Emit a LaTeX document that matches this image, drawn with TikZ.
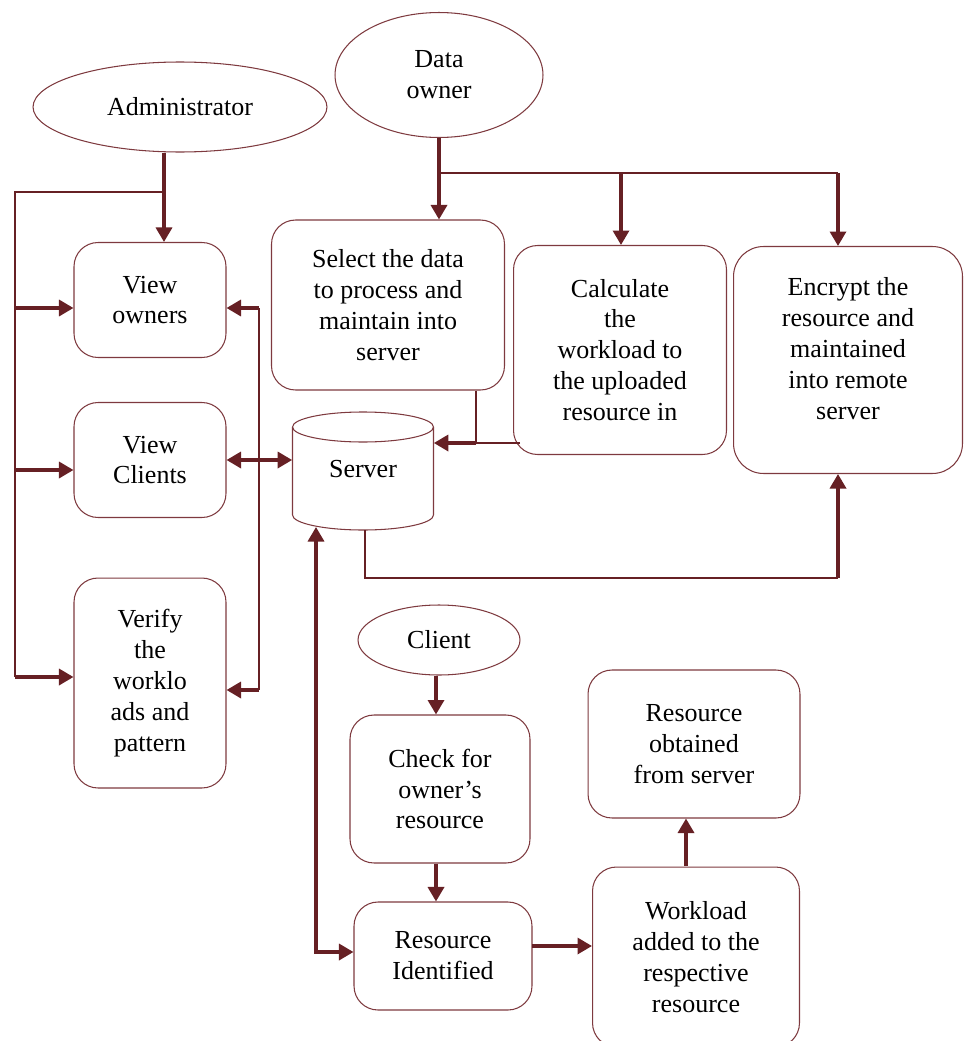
\documentclass[tikz,border=0pt]{standalone}
\usepackage{fontspec}
\setmainfont{Liberation Serif}
\usetikzlibrary{arrows.meta, shapes.geometric}
\definecolor{custom_maroon}{HTML}{662024}
\definecolor{custom_border}{HTML}{7E3A3F}

\tikzset{
  box/.style={draw=custom_border, line width=0.6pt, rounded corners=0.48cm, align=center, inner sep=0pt},
  oval/.style={draw=custom_border, line width=0.6pt, ellipse, align=center, inner sep=0pt},
  link/.style={draw=custom_maroon, line width=0.75pt},
  arr/.style={draw=custom_maroon, line width=1.9pt, -{Triangle[length=0.29cm, width=0.32cm]}},
  darr/.style={draw=custom_maroon, line width=1.9pt, {Triangle[length=0.29cm, width=0.32cm]}-{Triangle[length=0.29cm, width=0.32cm]}},
}

\begin{document}
\begin{tikzpicture}[x=0.02cm, y=-0.02cm, font=\fontsize{14.8}{17.6}\selectfont]
\useasboundingbox (0,0) rectangle (964,1041);

% actors
\node[oval, minimum width=5.88cm, minimum height=1.8cm] (admin) at (180,107) {Administrator};
\node[oval, minimum width=4.16cm, minimum height=2.5cm] (owner) at (439,75) {Data\\owner};
\node[oval, minimum width=3.24cm, minimum height=1.4cm] (client) at (439,640) {Client};

% administrator side
\node[box, minimum width=3.04cm, minimum height=2.3cm] (vo) at (150,300) {View\\owners};
\node[box, minimum width=3.04cm, minimum height=2.3cm] (vc) at (150,460) {View\\Clients};
\node[box, minimum width=3.04cm, minimum height=4.2cm] (vw) at (150,683) {Verify\\the\\worklo\\ads and\\pattern};

% data owner side
\node[box, minimum width=4.66cm, minimum height=3.4cm] (sel) at (388,305) {Select the data\\to process and\\maintain into\\server};
\node[box, minimum width=4.26cm, minimum height=4.18cm] (calc) at (620,350) {Calculate\\the\\workload to\\the uploaded\\resource in};
\node[box, rounded corners=0.6cm, text depth=13pt, minimum width=4.58cm, minimum height=4.54cm] (enc) at (848,360) {Encrypt the\\resource and\\maintained\\into remote\\server};

% server
\node[minimum width=2.82cm, minimum height=2.36cm, inner sep=0pt] (server) at (363,471) {};
\draw[custom_border, line width=0.6pt] (363,427) ellipse [x radius=70.5, y radius=15];
\draw[custom_border, line width=0.6pt] (292.5,427) -- (292.5,515) arc [start angle=180, end angle=0, x radius=70.5, y radius=15] -- (433.5,427);
\node at (363,469) {Server};

% client side
\node[box, minimum width=3.6cm, minimum height=2.96cm] (chk) at (440,789) {Check for\\owner’s\\resource};
\node[box, minimum width=3.56cm, minimum height=2.16cm] (rid) at (443,956) {Resource\\Identified};
\node[box, minimum width=4.14cm, minimum height=3.6cm] (wl) at (696,957) {Workload\\added to the\\respective\\resource};
\node[box, minimum width=4.24cm, minimum height=2.96cm] (ro) at (694,744) {Resource\\obtained\\from server};

% administrator links
\coordinate (ja) at (164,192);
\coordinate (jl) at (15,192);
\coordinate (l1) at (15,308);
\coordinate (l2) at (15,470);
\coordinate (l3) at (15,677);
\draw[arr] (admin.south -| ja) -- (vo.north -| ja);
\draw[link] (ja) -- (jl) -- (l3);
\draw[arr] (l1) -- (l1 -| vo.west);
\draw[arr] (l2) -- (l2 -| vc.west);
\draw[arr] (l3) -- (l3 -| vw.west);

\coordinate (q1) at (259,308);
\coordinate (q2) at (259,690);
\draw[link] (q1) -- (q2);
\draw[arr] (q1) -- (q1 -| vo.east);
\draw[arr] (q2) -- (q2 -| vw.east);
\draw[darr] (vc.east) -- (vc.east -| server.west);

% data owner links
\coordinate (o1) at (439,173);
\coordinate (o2) at (621,173);
\coordinate (o3) at (838,173);
\draw[arr] (owner.south) -- (owner.south |- sel.north);
\draw[link] (o1) -- (o3);
\draw[arr] (o2) -- (o2 |- calc.north);
\draw[arr] (o3) -- (o3 |- enc.north);

\coordinate (js) at (476,443);
\coordinate (jc) at (520,443);
\draw[link] (js |- sel.south) -- (js);
\draw[link] (jc) -- (js);
\draw[arr] (js) -- (js -| server.east);

\coordinate (jr) at (365,578);
\coordinate (je) at (838,578);
\draw[link] (server.south -| jr) -- (jr) -- (je);
\draw[arr] (je) -- (je |- enc.south);

% client links
\coordinate (sb) at (316,527);
\coordinate (jd) at (316,952);
\draw[darr] (sb) -- (jd) -- (jd -| rid.west);
\draw[arr] (client.south -| 436,0) -- (chk.north -| 436,0);
\draw[arr] (chk.south -| 436,0) -- (rid.north -| 436,0);
\coordinate (jw) at (532,946);
\draw[arr] (jw) -- (jw -| wl.west);
\coordinate (jo) at (686,866);
\draw[arr] (jo) -- (jo |- ro.south);
\end{tikzpicture}
\end{document}
